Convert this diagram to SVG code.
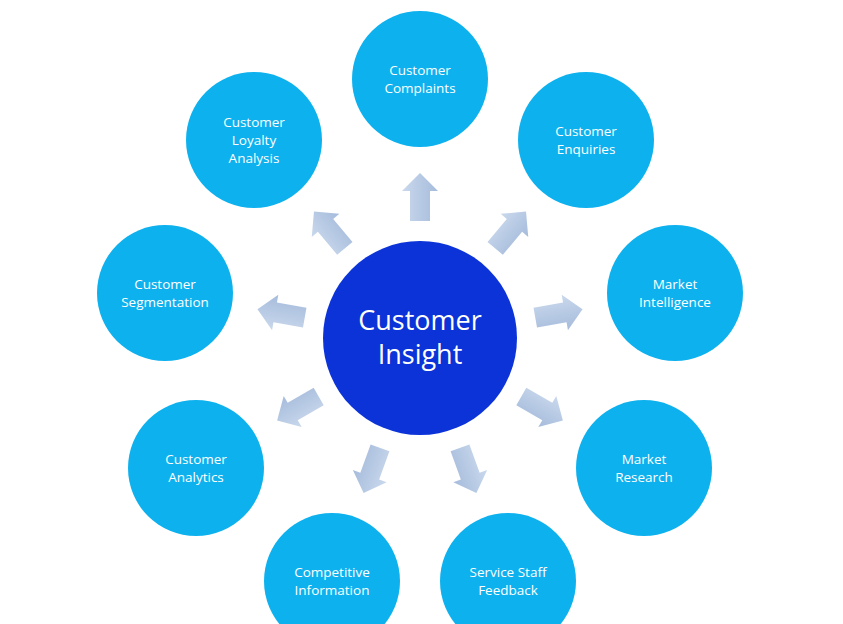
<svg xmlns="http://www.w3.org/2000/svg" width="843" height="624" viewBox="0 0 843 624">
<defs>
<linearGradient id="ag" x1="0" y1="0" x2="0" y2="1">
<stop offset="0" stop-color="#c9d8ec"/>
<stop offset="1" stop-color="#a6bcdc"/>
</linearGradient>
<path id="arr" d="M-24,-10 L6,-10 L6,-18 L24,0 L6,18 L6,10 L-24,10 Z"/>
</defs>
<style>
.outer{fill:#0db1ee;}
.center{fill:#0b33d8;}
.t{font-family:"Open Sans","Noto Sans",sans-serif;font-size:13.5px;fill:#ffffff;text-anchor:middle;}
.tc{font-family:"Open Sans","Noto Sans",sans-serif;font-size:27px;fill:#ffffff;text-anchor:middle;}
.a{fill:url(#ag);}
</style>
<rect width="843" height="624" fill="#ffffff"/>
<g id="connectors">
<use href="#arr" class="a" transform="translate(420,197) rotate(-90)"/>
<use href="#arr" class="a" transform="translate(510.6,230) rotate(-50)"/>
<use href="#arr" class="a" transform="translate(558.9,313.5) rotate(-10)"/>
<use href="#arr" class="a" transform="translate(542.1,408.5) rotate(30)"/>
<use href="#arr" class="a" transform="translate(468.2,470.5) rotate(70)"/>
<use href="#arr" class="a" transform="translate(371.8,470.5) rotate(110)"/>
<use href="#arr" class="a" transform="translate(297.9,408.5) rotate(150)"/>
<use href="#arr" class="a" transform="translate(281.1,313.5) rotate(190)"/>
<use href="#arr" class="a" transform="translate(329.4,230) rotate(230)"/>
</g>
<g id="center">
<circle class="center" cx="420" cy="338" r="97"/>
<text class="tc" x="420" y="330">Customer</text>
<text class="tc" x="420" y="364">Insight</text>
</g>
<g id="complaints">
<circle class="outer" cx="420" cy="79" r="68"/>
<text class="t" x="420" y="75">Customer</text>
<text class="t" x="420" y="93">Complaints</text>
</g>
<g id="enquiries">
<circle class="outer" cx="586" cy="140" r="68"/>
<text class="t" x="586" y="136">Customer</text>
<text class="t" x="586" y="154">Enquiries</text>
</g>
<g id="intelligence">
<circle class="outer" cx="675" cy="293" r="68"/>
<text class="t" x="675" y="289">Market</text>
<text class="t" x="675" y="307">Intelligence</text>
</g>
<g id="research">
<circle class="outer" cx="644" cy="468" r="68"/>
<text class="t" x="644" y="464">Market</text>
<text class="t" x="644" y="482">Research</text>
</g>
<g id="staff">
<circle class="outer" cx="508" cy="581" r="68"/>
<text class="t" x="508" y="577">Service Staff</text>
<text class="t" x="508" y="595">Feedback</text>
</g>
<g id="competitive">
<circle class="outer" cx="332" cy="581" r="68"/>
<text class="t" x="332" y="577">Competitive</text>
<text class="t" x="332" y="595">Information</text>
</g>
<g id="analytics">
<circle class="outer" cx="196" cy="468" r="68"/>
<text class="t" x="196" y="464">Customer</text>
<text class="t" x="196" y="482">Analytics</text>
</g>
<g id="segmentation">
<circle class="outer" cx="165" cy="293" r="68"/>
<text class="t" x="165" y="289">Customer</text>
<text class="t" x="165" y="307">Segmentation</text>
</g>
<g id="loyalty">
<circle class="outer" cx="254" cy="140" r="68"/>
<text class="t" x="254" y="127">Customer</text>
<text class="t" x="254" y="145">Loyalty</text>
<text class="t" x="254" y="163">Analysis</text>
</g>
</svg>
